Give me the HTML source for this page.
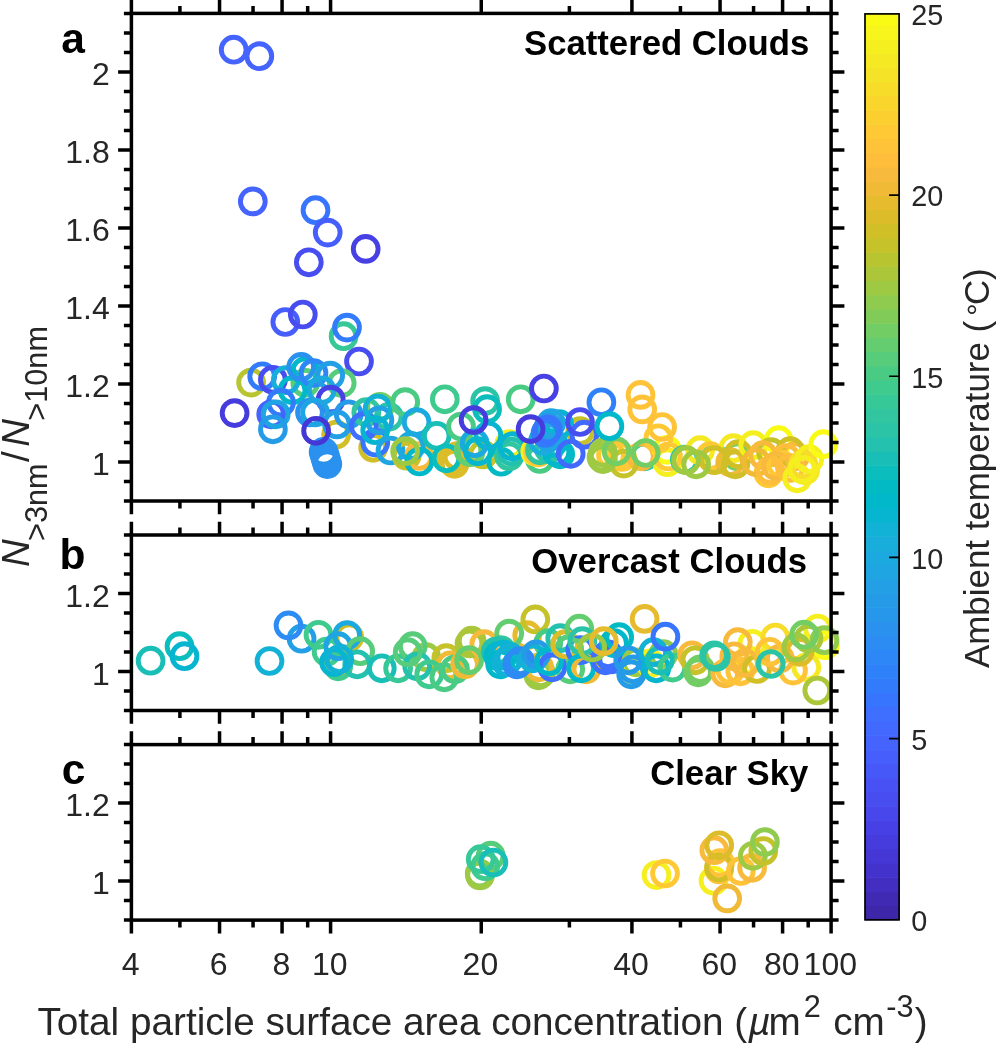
<!DOCTYPE html>
<html><head><meta charset="utf-8"><title>Figure</title>
<style>html,body{margin:0;padding:0;background:#fff;}body{width:996px;height:1044px;position:relative;overflow:hidden;font-family:"Liberation Sans",sans-serif;}</style>
</head><body>
<svg width="996" height="1044" viewBox="0 0 996 1044" style="display:block;position:absolute;left:0;top:0;will-change:transform" font-family="'Liberation Sans', sans-serif">
<rect width="996" height="1044" fill="#fff"/>
<g fill="none" stroke-width="4.9">
<circle cx="233.7" cy="49.7" r="12.4" stroke="#4563fd"/>
<circle cx="259.3" cy="56.2" r="12.4" stroke="#4563fd"/>
<circle cx="252.8" cy="201.4" r="12.4" stroke="#4563fd"/>
<circle cx="315.5" cy="210.2" r="12.4" stroke="#3875fe"/>
<circle cx="327.7" cy="232.6" r="12.4" stroke="#465efb"/>
<circle cx="365.7" cy="248.9" r="12.4" stroke="#4741e5"/>
<circle cx="308.8" cy="262.3" r="12.4" stroke="#484df0"/>
<circle cx="285.3" cy="322.0" r="12.4" stroke="#465efb"/>
<circle cx="302.8" cy="314.5" r="12.4" stroke="#484df0"/>
<circle cx="343.6" cy="336.2" r="12.4" stroke="#37c897"/>
<circle cx="347.0" cy="327.6" r="12.4" stroke="#327cfc"/>
<circle cx="359.0" cy="361.5" r="12.4" stroke="#484df0"/>
<circle cx="251.1" cy="382.6" r="12.4" stroke="#b9c431"/>
<circle cx="305.3" cy="382.8" r="12.4" stroke="#57cc7a"/>
<circle cx="341.7" cy="383.1" r="12.4" stroke="#57cc7a"/>
<circle cx="336.2" cy="434.5" r="12.4" stroke="#d1bf27"/>
<circle cx="262.2" cy="376.3" r="12.4" stroke="#327cfc"/>
<circle cx="272.9" cy="379.8" r="12.4" stroke="#484df0"/>
<circle cx="285.8" cy="380.1" r="12.4" stroke="#18addb"/>
<circle cx="292.6" cy="390.2" r="12.4" stroke="#01b8ca"/>
<circle cx="281.0" cy="402.6" r="12.4" stroke="#327cfc"/>
<circle cx="271.2" cy="414.3" r="12.4" stroke="#4563fd"/>
<circle cx="275.7" cy="414.3" r="12.4" stroke="#20a5e3"/>
<circle cx="272.9" cy="429.3" r="12.4" stroke="#259be8"/>
<circle cx="305.3" cy="371.1" r="12.4" stroke="#01b8ca"/>
<circle cx="301.2" cy="366.9" r="12.4" stroke="#2b91ef"/>
<circle cx="313.5" cy="373.0" r="12.4" stroke="#2e87f7"/>
<circle cx="330.2" cy="375.6" r="12.4" stroke="#23a0e5"/>
<circle cx="321.6" cy="390.3" r="12.4" stroke="#1ca9df"/>
<circle cx="330.7" cy="399.6" r="12.4" stroke="#4741e5"/>
<circle cx="310.0" cy="412.5" r="12.4" stroke="#2b91ef"/>
<circle cx="315.0" cy="412.5" r="12.4" stroke="#20a5e3"/>
<circle cx="337.0" cy="424.4" r="12.4" stroke="#23a0e5"/>
<circle cx="348.7" cy="414.3" r="12.4" stroke="#259be8"/>
<circle cx="323.6" cy="451.9" r="12.4" stroke="#2b91ef"/>
<circle cx="324.9" cy="456.1" r="12.4" stroke="#2b91ef"/>
<circle cx="326.1" cy="460.1" r="12.4" stroke="#2b91ef"/>
<circle cx="327.3" cy="464.1" r="12.4" stroke="#2b91ef"/>
<circle cx="316.1" cy="430.8" r="12.4" stroke="#4537d5"/>
<circle cx="234.6" cy="413.1" r="12.4" stroke="#463cde"/>
<circle cx="366.3" cy="412.2" r="12.4" stroke="#31c69f"/>
<circle cx="380.0" cy="406.8" r="12.4" stroke="#72cd64"/>
<circle cx="388.8" cy="416.8" r="12.4" stroke="#2cc4a7"/>
<circle cx="373.2" cy="447.8" r="12.4" stroke="#d1bf27"/>
<circle cx="363.8" cy="426.2" r="12.4" stroke="#3e6fff"/>
<circle cx="375.3" cy="442.5" r="12.4" stroke="#3875fe"/>
<circle cx="379.4" cy="420.3" r="12.4" stroke="#23a0e5"/>
<circle cx="377.7" cy="408.5" r="12.4" stroke="#12b1d6"/>
<circle cx="375.2" cy="430.2" r="12.4" stroke="#08b5d0"/>
<circle cx="390.5" cy="450.5" r="12.4" stroke="#20a5e3"/>
<circle cx="405.2" cy="402.1" r="12.4" stroke="#4acb84"/>
<circle cx="444.8" cy="399.3" r="12.4" stroke="#3fca8e"/>
<circle cx="406.6" cy="455.7" r="12.4" stroke="#c5c22a"/>
<circle cx="419.2" cy="456.0" r="12.4" stroke="#f8ba3d"/>
<circle cx="410.8" cy="446.2" r="12.4" stroke="#1ca9df"/>
<circle cx="419.4" cy="461.5" r="12.4" stroke="#01b8ca"/>
<circle cx="405.1" cy="451.2" r="12.4" stroke="#9dc943"/>
<circle cx="416.6" cy="422.1" r="12.4" stroke="#1ca9df"/>
<circle cx="436.7" cy="435.8" r="12.4" stroke="#19bfb6"/>
<circle cx="454.5" cy="463.8" r="12.4" stroke="#dcbd29"/>
<circle cx="457.3" cy="456.2" r="12.4" stroke="#dcbd29"/>
<circle cx="451.0" cy="460.5" r="12.4" stroke="#dcbd29"/>
<circle cx="446.5" cy="458.3" r="12.4" stroke="#0bbdbd"/>
<circle cx="461.0" cy="426.5" r="12.4" stroke="#4acb84"/>
<circle cx="468.5" cy="450.5" r="12.4" stroke="#64cd6f"/>
<circle cx="483.1" cy="454.5" r="12.4" stroke="#c5c22a"/>
<circle cx="470.4" cy="452.2" r="12.4" stroke="#64cd6f"/>
<circle cx="485.1" cy="401.1" r="12.4" stroke="#2cc4a7"/>
<circle cx="487.1" cy="409.2" r="12.4" stroke="#0bbdbd"/>
<circle cx="520.7" cy="399.3" r="12.4" stroke="#4acb84"/>
<circle cx="509.2" cy="444.2" r="12.4" stroke="#f6ef20"/>
<circle cx="488.4" cy="435.5" r="12.4" stroke="#08b5d0"/>
<circle cx="474.6" cy="443.2" r="12.4" stroke="#1ca9df"/>
<circle cx="478.0" cy="451.2" r="12.4" stroke="#08b5d0"/>
<circle cx="501.2" cy="461.7" r="12.4" stroke="#02bac3"/>
<circle cx="509.2" cy="456.2" r="12.4" stroke="#31c69f"/>
<circle cx="511.5" cy="451.5" r="12.4" stroke="#24c1ae"/>
<circle cx="512.2" cy="446.2" r="12.4" stroke="#08b5d0"/>
<circle cx="473.6" cy="420.1" r="12.4" stroke="#463cde"/>
<circle cx="539.8" cy="459.0" r="12.4" stroke="#4acb84"/>
<circle cx="535.2" cy="451.5" r="12.4" stroke="#f6ef20"/>
<circle cx="538.2" cy="452.5" r="12.4" stroke="#fec934"/>
<circle cx="540.0" cy="450.3" r="12.4" stroke="#31c69f"/>
<circle cx="560.2" cy="454.3" r="12.4" stroke="#02bac3"/>
<circle cx="580.2" cy="431.2" r="12.4" stroke="#c5c22a"/>
<circle cx="549.0" cy="449.0" r="12.4" stroke="#2cc4a7"/>
<circle cx="556.5" cy="452.0" r="12.4" stroke="#01b8ca"/>
<circle cx="553.0" cy="443.0" r="12.4" stroke="#01b8ca"/>
<circle cx="543.0" cy="441.0" r="12.4" stroke="#18addb"/>
<circle cx="559.2" cy="424.2" r="12.4" stroke="#08b5d0"/>
<circle cx="551.1" cy="423.2" r="12.4" stroke="#20a5e3"/>
<circle cx="549.1" cy="437.2" r="12.4" stroke="#20a5e3"/>
<circle cx="548.5" cy="427.5" r="12.4" stroke="#259be8"/>
<circle cx="545.5" cy="433.0" r="12.4" stroke="#327cfc"/>
<circle cx="547.6" cy="429.7" r="12.4" stroke="#3875fe"/>
<circle cx="530.6" cy="429.1" r="12.4" stroke="#463cde"/>
<circle cx="543.9" cy="388.5" r="12.4" stroke="#4741e5"/>
<circle cx="570.7" cy="453.8" r="12.4" stroke="#4269fe"/>
<circle cx="584.3" cy="434.7" r="12.4" stroke="#4269fe"/>
<circle cx="580.0" cy="422.0" r="12.4" stroke="#484df0"/>
<circle cx="601.4" cy="402.3" r="12.4" stroke="#2f81fa"/>
<circle cx="644.3" cy="456.3" r="12.4" stroke="#2cc4a7"/>
<circle cx="617.8" cy="454.7" r="12.4" stroke="#fec934"/>
<circle cx="622.0" cy="457.0" r="12.4" stroke="#fec934"/>
<circle cx="641.0" cy="456.3" r="12.4" stroke="#f8ba3d"/>
<circle cx="611.0" cy="455.5" r="12.4" stroke="#fec934"/>
<circle cx="623.8" cy="463.6" r="12.4" stroke="#c5c22a"/>
<circle cx="601.5" cy="457.5" r="12.4" stroke="#9dc943"/>
<circle cx="602.9" cy="452.7" r="12.4" stroke="#9dc943"/>
<circle cx="602.9" cy="459.1" r="12.4" stroke="#9dc943"/>
<circle cx="667.3" cy="462.2" r="12.4" stroke="#f6ef20"/>
<circle cx="666.8" cy="449.8" r="12.4" stroke="#f9fb15"/>
<circle cx="668.0" cy="456.5" r="12.4" stroke="#fec934"/>
<circle cx="640.5" cy="394.9" r="12.4" stroke="#fec338"/>
<circle cx="642.2" cy="409.4" r="12.4" stroke="#fec338"/>
<circle cx="662.1" cy="427.0" r="12.4" stroke="#fec338"/>
<circle cx="658.3" cy="438.3" r="12.4" stroke="#fec934"/>
<circle cx="616.6" cy="451.3" r="12.4" stroke="#72cd64"/>
<circle cx="645.7" cy="453.0" r="12.4" stroke="#72cd64"/>
<circle cx="609.4" cy="426.2" r="12.4" stroke="#01b8ca"/>
<circle cx="684.8" cy="459.6" r="12.4" stroke="#31c69f"/>
<circle cx="715.0" cy="458.5" r="12.4" stroke="#3fca8e"/>
<circle cx="700.1" cy="450.2" r="12.4" stroke="#f5e924"/>
<circle cx="710.2" cy="456.2" r="12.4" stroke="#fec934"/>
<circle cx="733.3" cy="448.2" r="12.4" stroke="#f5e924"/>
<circle cx="737.3" cy="456.2" r="12.4" stroke="#72cd64"/>
<circle cx="730.2" cy="462.2" r="12.4" stroke="#f0ba36"/>
<circle cx="738.3" cy="454.2" r="12.4" stroke="#d1bf27"/>
<circle cx="735.3" cy="464.3" r="12.4" stroke="#d1bf27"/>
<circle cx="714.2" cy="460.2" r="12.4" stroke="#d1bf27"/>
<circle cx="686.1" cy="460.2" r="12.4" stroke="#9dc943"/>
<circle cx="696.1" cy="464.3" r="12.4" stroke="#9dc943"/>
<circle cx="753.2" cy="445.2" r="12.4" stroke="#f6ef20"/>
<circle cx="778.6" cy="440.2" r="12.4" stroke="#f9fb15"/>
<circle cx="795.2" cy="456.2" r="12.4" stroke="#f8ba3d"/>
<circle cx="771.1" cy="452.2" r="12.4" stroke="#c5c22a"/>
<circle cx="790.2" cy="451.2" r="12.4" stroke="#d1bf27"/>
<circle cx="768.4" cy="473.3" r="12.4" stroke="#fec934"/>
<circle cx="756.2" cy="462.2" r="12.4" stroke="#f0ba36"/>
<circle cx="763.1" cy="455.2" r="12.4" stroke="#f8ba3d"/>
<circle cx="770.1" cy="470.3" r="12.4" stroke="#febe3c"/>
<circle cx="781.1" cy="464.3" r="12.4" stroke="#fec934"/>
<circle cx="786.0" cy="458.0" r="12.4" stroke="#febe3c"/>
<circle cx="776.0" cy="466.0" r="12.4" stroke="#f8ba3d"/>
<circle cx="790.0" cy="468.0" r="12.4" stroke="#febe3c"/>
<circle cx="797.2" cy="478.3" r="12.4" stroke="#f6ef20"/>
<circle cx="805.2" cy="470.3" r="12.4" stroke="#f5e924"/>
<circle cx="803.2" cy="464.3" r="12.4" stroke="#f7dc2a"/>
<circle cx="802.2" cy="469.3" r="12.4" stroke="#f6ef20"/>
<circle cx="809.2" cy="459.2" r="12.4" stroke="#f6ef20"/>
<circle cx="823.3" cy="444.2" r="12.4" stroke="#f9fb15"/>
</g>
<g fill="none" stroke-width="4.9">
<circle cx="150.6" cy="660.7" r="12.4" stroke="#19bfb6"/>
<circle cx="179.5" cy="646.2" r="12.4" stroke="#0bbdbd"/>
<circle cx="184.5" cy="656.2" r="12.4" stroke="#08b5d0"/>
<circle cx="269.5" cy="661.0" r="12.4" stroke="#12b1d6"/>
<circle cx="301.6" cy="638.7" r="12.4" stroke="#23a0e5"/>
<circle cx="288.5" cy="625.4" r="12.4" stroke="#2d8cf3"/>
<circle cx="318.5" cy="634.8" r="12.4" stroke="#3fca8e"/>
<circle cx="349.2" cy="637.3" r="12.4" stroke="#d1bf27"/>
<circle cx="335.5" cy="662.5" r="12.4" stroke="#d1bf27"/>
<circle cx="338.2" cy="666.3" r="12.4" stroke="#3fca8e"/>
<circle cx="326.6" cy="651.7" r="12.4" stroke="#3fca8e"/>
<circle cx="347.2" cy="635.1" r="12.4" stroke="#1ca9df"/>
<circle cx="338.2" cy="646.2" r="12.4" stroke="#20a5e3"/>
<circle cx="360.2" cy="651.2" r="12.4" stroke="#57cc7a"/>
<circle cx="357.2" cy="664.3" r="12.4" stroke="#24c1ae"/>
<circle cx="334.1" cy="662.2" r="12.4" stroke="#08b5d0"/>
<circle cx="339.2" cy="659.2" r="12.4" stroke="#12b1d6"/>
<circle cx="381.8" cy="668.3" r="12.4" stroke="#19bfb6"/>
<circle cx="398.1" cy="668.3" r="12.4" stroke="#37c897"/>
<circle cx="426.2" cy="657.2" r="12.4" stroke="#9dc943"/>
<circle cx="412.7" cy="646.2" r="12.4" stroke="#57cc7a"/>
<circle cx="417.2" cy="666.3" r="12.4" stroke="#24c1ae"/>
<circle cx="407.7" cy="652.2" r="12.4" stroke="#57cc7a"/>
<circle cx="446.3" cy="658.2" r="12.4" stroke="#c5c22a"/>
<circle cx="450.3" cy="665.3" r="12.4" stroke="#f0ba36"/>
<circle cx="429.2" cy="674.3" r="12.4" stroke="#3fca8e"/>
<circle cx="444.3" cy="677.3" r="12.4" stroke="#4acb84"/>
<circle cx="455.0" cy="669.3" r="12.4" stroke="#4acb84"/>
<circle cx="465.1" cy="664.3" r="12.4" stroke="#f0ba36"/>
<circle cx="469.5" cy="643.5" r="12.4" stroke="#abc739"/>
<circle cx="471.6" cy="640.7" r="12.4" stroke="#abc739"/>
<circle cx="484.2" cy="644.2" r="12.4" stroke="#f8ba3d"/>
<circle cx="469.1" cy="660.2" r="12.4" stroke="#64cd6f"/>
<circle cx="527.2" cy="635.2" r="12.4" stroke="#e6bb2d"/>
<circle cx="509.2" cy="633.6" r="12.4" stroke="#64cd6f"/>
<circle cx="535.3" cy="619.4" r="12.4" stroke="#c5c22a"/>
<circle cx="538.4" cy="675.3" r="12.4" stroke="#9dc943"/>
<circle cx="541.1" cy="673.3" r="12.4" stroke="#9dc943"/>
<circle cx="539.1" cy="667.3" r="12.4" stroke="#f0ba36"/>
<circle cx="501.2" cy="650.2" r="12.4" stroke="#31c69f"/>
<circle cx="495.8" cy="651.5" r="12.4" stroke="#24c1ae"/>
<circle cx="498.2" cy="656.2" r="12.4" stroke="#01b8ca"/>
<circle cx="504.0" cy="654.5" r="12.4" stroke="#08b5d0"/>
<circle cx="500.2" cy="664.3" r="12.4" stroke="#01b8ca"/>
<circle cx="510.3" cy="657.2" r="12.4" stroke="#12b1d6"/>
<circle cx="506.3" cy="662.2" r="12.4" stroke="#12b1d6"/>
<circle cx="517.2" cy="664.3" r="12.4" stroke="#2d8cf3"/>
<circle cx="520.2" cy="661.2" r="12.4" stroke="#2d8cf3"/>
<circle cx="548.2" cy="643.2" r="12.4" stroke="#4acb84"/>
<circle cx="569.2" cy="649.2" r="12.4" stroke="#57cc7a"/>
<circle cx="570.2" cy="669.3" r="12.4" stroke="#57cc7a"/>
<circle cx="533.1" cy="658.3" r="12.4" stroke="#12b1d6"/>
<circle cx="536.2" cy="654.3" r="12.4" stroke="#259be8"/>
<circle cx="552.2" cy="667.3" r="12.4" stroke="#3e6fff"/>
<circle cx="549.2" cy="661.3" r="12.4" stroke="#01b8ca"/>
<circle cx="560.2" cy="638.2" r="12.4" stroke="#24c1ae"/>
<circle cx="565.2" cy="644.2" r="12.4" stroke="#dcbd29"/>
<circle cx="580.3" cy="650.2" r="12.4" stroke="#3875fe"/>
<circle cx="579.3" cy="628.7" r="12.4" stroke="#64cd6f"/>
<circle cx="582.3" cy="641.2" r="12.4" stroke="#2cc4a7"/>
<circle cx="586.3" cy="669.3" r="12.4" stroke="#f0ba36"/>
<circle cx="581.2" cy="668.3" r="12.4" stroke="#01b8ca"/>
<circle cx="605.4" cy="660.3" r="12.4" stroke="#3e6fff"/>
<circle cx="608.1" cy="654.3" r="12.4" stroke="#3e6fff"/>
<circle cx="612.1" cy="659.3" r="12.4" stroke="#3e6fff"/>
<circle cx="614.1" cy="643.2" r="12.4" stroke="#01b8ca"/>
<circle cx="619.2" cy="637.2" r="12.4" stroke="#02bac3"/>
<circle cx="592.2" cy="647.5" r="12.4" stroke="#9dc943"/>
<circle cx="603.8" cy="641.2" r="12.4" stroke="#e6bb2d"/>
<circle cx="636.2" cy="662.3" r="12.4" stroke="#9dc943"/>
<circle cx="634.2" cy="670.0" r="12.4" stroke="#f6ef20"/>
<circle cx="650.3" cy="663.3" r="12.4" stroke="#f6ef20"/>
<circle cx="663.3" cy="654.2" r="12.4" stroke="#8fcb4e"/>
<circle cx="628.2" cy="660.3" r="12.4" stroke="#259be8"/>
<circle cx="633.2" cy="669.3" r="12.4" stroke="#259be8"/>
<circle cx="631.2" cy="674.3" r="12.4" stroke="#259be8"/>
<circle cx="653.3" cy="652.2" r="12.4" stroke="#12b1d6"/>
<circle cx="656.3" cy="668.3" r="12.4" stroke="#08b5d0"/>
<circle cx="672.5" cy="667.6" r="12.4" stroke="#3fca8e"/>
<circle cx="659.8" cy="660.3" r="12.4" stroke="#19bfb6"/>
<circle cx="644.6" cy="618.9" r="12.4" stroke="#e6bb2d"/>
<circle cx="665.4" cy="636.7" r="12.4" stroke="#3875fe"/>
<circle cx="748.4" cy="660.3" r="12.4" stroke="#f6ef20"/>
<circle cx="752.3" cy="643.8" r="12.4" stroke="#f6ef20"/>
<circle cx="692.1" cy="655.3" r="12.4" stroke="#f8ba3d"/>
<circle cx="695.1" cy="660.3" r="12.4" stroke="#c5c22a"/>
<circle cx="698.2" cy="672.3" r="12.4" stroke="#72cd64"/>
<circle cx="700.2" cy="669.3" r="12.4" stroke="#72cd64"/>
<circle cx="725.3" cy="673.3" r="12.4" stroke="#f8ba3d"/>
<circle cx="730.3" cy="670.3" r="12.4" stroke="#fec338"/>
<circle cx="740.3" cy="671.3" r="12.4" stroke="#fec338"/>
<circle cx="734.3" cy="656.3" r="12.4" stroke="#f8ba3d"/>
<circle cx="737.8" cy="642.2" r="12.4" stroke="#f8ba3d"/>
<circle cx="716.0" cy="657.0" r="12.4" stroke="#2cc4a7"/>
<circle cx="714.2" cy="655.3" r="12.4" stroke="#2cc4a7"/>
<circle cx="757.0" cy="669.0" r="12.4" stroke="#d1bf27"/>
<circle cx="745.0" cy="663.0" r="12.4" stroke="#f8ba3d"/>
<circle cx="817.8" cy="628.5" r="12.4" stroke="#f6ef20"/>
<circle cx="825.0" cy="645.2" r="12.4" stroke="#f9fb15"/>
<circle cx="775.3" cy="637.5" r="12.4" stroke="#f7dc2a"/>
<circle cx="806.3" cy="667.3" r="12.4" stroke="#f5e924"/>
<circle cx="793.0" cy="670.6" r="12.4" stroke="#fec338"/>
<circle cx="779.8" cy="658.5" r="12.4" stroke="#f8ba3d"/>
<circle cx="769.8" cy="651.8" r="12.4" stroke="#fec338"/>
<circle cx="799.6" cy="651.8" r="12.4" stroke="#dcbd29"/>
<circle cx="808.5" cy="638.6" r="12.4" stroke="#abc739"/>
<circle cx="796.3" cy="647.4" r="12.4" stroke="#9dc943"/>
<circle cx="824.5" cy="640.2" r="12.4" stroke="#8fcb4e"/>
<circle cx="804.1" cy="634.7" r="12.4" stroke="#72cd64"/>
<circle cx="770.7" cy="664.0" r="12.4" stroke="#2cc4a7"/>
<circle cx="817.3" cy="690.5" r="12.4" stroke="#abc739"/>
</g>
<g fill="none" stroke-width="4.9">
<circle cx="479.7" cy="873.5" r="12.4" stroke="#8fcb4e"/>
<circle cx="480.0" cy="875.5" r="12.4" stroke="#9dc943"/>
<circle cx="490.7" cy="855.7" r="12.4" stroke="#57cc7a"/>
<circle cx="485.2" cy="866.2" r="12.4" stroke="#3fca8e"/>
<circle cx="480.7" cy="859.2" r="12.4" stroke="#37c897"/>
<circle cx="493.4" cy="862.5" r="12.4" stroke="#19bfb6"/>
<circle cx="656.5" cy="875.1" r="12.4" stroke="#f6ef20"/>
<circle cx="665.0" cy="873.5" r="12.4" stroke="#fec934"/>
<circle cx="713.5" cy="880.7" r="12.4" stroke="#f6ef20"/>
<circle cx="720.0" cy="863.0" r="12.4" stroke="#fec338"/>
<circle cx="719.2" cy="869.4" r="12.4" stroke="#fec338"/>
<circle cx="719.0" cy="867.5" r="12.4" stroke="#d1bf27"/>
<circle cx="714.3" cy="850.2" r="12.4" stroke="#f8ba3d"/>
<circle cx="719.2" cy="845.3" r="12.4" stroke="#dcbd29"/>
<circle cx="727.2" cy="898.4" r="12.4" stroke="#f0ba36"/>
<circle cx="740.8" cy="871.0" r="12.4" stroke="#fec338"/>
<circle cx="752.1" cy="867.8" r="12.4" stroke="#f8ba3d"/>
<circle cx="752.9" cy="855.8" r="12.4" stroke="#9dc943"/>
<circle cx="763.3" cy="851.0" r="12.4" stroke="#c5c22a"/>
<circle cx="764.9" cy="842.1" r="12.4" stroke="#8fcb4e"/>
</g>
<rect x="131.4" y="13.4" width="699.7" height="487.6" fill="none" stroke="#000" stroke-width="3.5"/>
<path d="M131.40 501.0v13.3M131.40 13.4v-13.3M219.54 501.0v13.3M219.54 13.4v-13.3M282.07 501.0v13.3M282.07 13.4v-13.3M330.58 501.0v13.3M330.58 13.4v-13.3M481.25 501.0v13.3M481.25 13.4v-13.3M631.92 501.0v13.3M631.92 13.4v-13.3M720.06 501.0v13.3M720.06 13.4v-13.3M782.59 501.0v13.3M782.59 13.4v-13.3M831.10 501.0v13.3M831.10 13.4v-13.3M179.91 501.0v7.5M179.91 13.4v-7.5M253.05 501.0v7.5M253.05 13.4v-7.5M307.68 501.0v7.5M307.68 13.4v-7.5M569.39 501.0v7.5M569.39 13.4v-7.5M680.43 501.0v7.5M680.43 13.4v-7.5M753.57 501.0v7.5M753.57 13.4v-7.5M808.20 501.0v7.5M808.20 13.4v-7.5M131.4 501.00h-7.5M831.1 501.00h7.5M131.4 481.50h-7.5M831.1 481.50h7.5M131.4 461.99h-13.3M831.1 461.99h13.3M131.4 442.49h-7.5M831.1 442.49h7.5M131.4 422.98h-7.5M831.1 422.98h7.5M131.4 403.48h-7.5M831.1 403.48h7.5M131.4 383.98h-13.3M831.1 383.98h13.3M131.4 364.47h-7.5M831.1 364.47h7.5M131.4 344.97h-7.5M831.1 344.97h7.5M131.4 325.46h-7.5M831.1 325.46h7.5M131.4 305.96h-13.3M831.1 305.96h13.3M131.4 286.46h-7.5M831.1 286.46h7.5M131.4 266.95h-7.5M831.1 266.95h7.5M131.4 247.45h-7.5M831.1 247.45h7.5M131.4 227.94h-13.3M831.1 227.94h13.3M131.4 208.44h-7.5M831.1 208.44h7.5M131.4 188.94h-7.5M831.1 188.94h7.5M131.4 169.43h-7.5M831.1 169.43h7.5M131.4 149.93h-13.3M831.1 149.93h13.3M131.4 130.42h-7.5M831.1 130.42h7.5M131.4 110.92h-7.5M831.1 110.92h7.5M131.4 91.42h-7.5M831.1 91.42h7.5M131.4 71.91h-13.3M831.1 71.91h13.3M131.4 52.41h-7.5M831.1 52.41h7.5M131.4 32.90h-7.5M831.1 32.90h7.5M131.4 13.40h-7.5M831.1 13.40h7.5" stroke="#000" stroke-width="3.5" fill="none"/>
<text x="109.80000000000001" y="475.0" font-size="32" fill="#262626" text-anchor="end">1</text>
<text x="109.80000000000001" y="397.0" font-size="32" fill="#262626" text-anchor="end">1.2</text>
<text x="109.80000000000001" y="319.0" font-size="32" fill="#262626" text-anchor="end">1.4</text>
<text x="109.80000000000001" y="240.9" font-size="32" fill="#262626" text-anchor="end">1.6</text>
<text x="109.80000000000001" y="162.9" font-size="32" fill="#262626" text-anchor="end">1.8</text>
<text x="109.80000000000001" y="84.9" font-size="32" fill="#262626" text-anchor="end">2</text>
<rect x="131.4" y="535.0" width="699.7" height="175.5" fill="none" stroke="#000" stroke-width="3.5"/>
<path d="M131.40 710.5v13.3M131.40 535.0v-13.3M219.54 710.5v13.3M219.54 535.0v-13.3M282.07 710.5v13.3M282.07 535.0v-13.3M330.58 710.5v13.3M330.58 535.0v-13.3M481.25 710.5v13.3M481.25 535.0v-13.3M631.92 710.5v13.3M631.92 535.0v-13.3M720.06 710.5v13.3M720.06 535.0v-13.3M782.59 710.5v13.3M782.59 535.0v-13.3M831.10 710.5v13.3M831.10 535.0v-13.3M179.91 710.5v7.5M179.91 535.0v-7.5M253.05 710.5v7.5M253.05 535.0v-7.5M307.68 710.5v7.5M307.68 535.0v-7.5M569.39 710.5v7.5M569.39 535.0v-7.5M680.43 710.5v7.5M680.43 535.0v-7.5M753.57 710.5v7.5M753.57 535.0v-7.5M808.20 710.5v7.5M808.20 535.0v-7.5M131.4 710.50h-7.5M831.1 710.50h7.5M131.4 691.00h-7.5M831.1 691.00h7.5M131.4 671.50h-13.3M831.1 671.50h13.3M131.4 652.00h-7.5M831.1 652.00h7.5M131.4 632.50h-7.5M831.1 632.50h7.5M131.4 613.00h-7.5M831.1 613.00h7.5M131.4 593.50h-13.3M831.1 593.50h13.3M131.4 574.00h-7.5M831.1 574.00h7.5M131.4 554.50h-7.5M831.1 554.50h7.5M131.4 535.00h-7.5M831.1 535.00h7.5" stroke="#000" stroke-width="3.5" fill="none"/>
<text x="109.80000000000001" y="684.5" font-size="32" fill="#262626" text-anchor="end">1</text>
<text x="109.80000000000001" y="606.5" font-size="32" fill="#262626" text-anchor="end">1.2</text>
<rect x="131.4" y="744.6" width="699.7" height="175.5" fill="none" stroke="#000" stroke-width="3.5"/>
<path d="M131.40 920.1v13.3M131.40 744.6v-13.3M219.54 920.1v13.3M219.54 744.6v-13.3M282.07 920.1v13.3M282.07 744.6v-13.3M330.58 920.1v13.3M330.58 744.6v-13.3M481.25 920.1v13.3M481.25 744.6v-13.3M631.92 920.1v13.3M631.92 744.6v-13.3M720.06 920.1v13.3M720.06 744.6v-13.3M782.59 920.1v13.3M782.59 744.6v-13.3M831.10 920.1v13.3M831.10 744.6v-13.3M179.91 920.1v7.5M179.91 744.6v-7.5M253.05 920.1v7.5M253.05 744.6v-7.5M307.68 920.1v7.5M307.68 744.6v-7.5M569.39 920.1v7.5M569.39 744.6v-7.5M680.43 920.1v7.5M680.43 744.6v-7.5M753.57 920.1v7.5M753.57 744.6v-7.5M808.20 920.1v7.5M808.20 744.6v-7.5M131.4 920.10h-7.5M831.1 920.10h7.5M131.4 900.60h-7.5M831.1 900.60h7.5M131.4 881.10h-13.3M831.1 881.10h13.3M131.4 861.60h-7.5M831.1 861.60h7.5M131.4 842.10h-7.5M831.1 842.10h7.5M131.4 822.60h-7.5M831.1 822.60h7.5M131.4 803.10h-13.3M831.1 803.10h13.3M131.4 783.60h-7.5M831.1 783.60h7.5M131.4 764.10h-7.5M831.1 764.10h7.5M131.4 744.60h-7.5M831.1 744.60h7.5" stroke="#000" stroke-width="3.5" fill="none"/>
<text x="109.80000000000001" y="894.1" font-size="32" fill="#262626" text-anchor="end">1</text>
<text x="109.80000000000001" y="816.1" font-size="32" fill="#262626" text-anchor="end">1.2</text>
<text x="130.6" y="975.4" font-size="32" fill="#262626" text-anchor="middle">4</text>
<text x="218.7" y="975.4" font-size="32" fill="#262626" text-anchor="middle">6</text>
<text x="281.3" y="975.4" font-size="32" fill="#262626" text-anchor="middle">8</text>
<text x="329.8" y="975.4" font-size="32" fill="#262626" text-anchor="middle">10</text>
<text x="480.4" y="975.4" font-size="32" fill="#262626" text-anchor="middle">20</text>
<text x="631.1" y="975.4" font-size="32" fill="#262626" text-anchor="middle">40</text>
<text x="719.3" y="975.4" font-size="32" fill="#262626" text-anchor="middle">60</text>
<text x="781.8" y="975.4" font-size="32" fill="#262626" text-anchor="middle">80</text>
<text x="830.3" y="975.4" font-size="32" fill="#262626" text-anchor="middle">100</text>
<g font-weight="bold" fill="#000">
<text x="61.3" y="52.8" font-size="42.5">a</text>
<text x="59.5" y="569" font-size="42.5">b</text>
<text x="61.8" y="783.7" font-size="42.5">c</text>
<text x="809.3" y="55" font-size="34.7" text-anchor="end">Scattered Clouds</text>
<text x="807" y="573" font-size="34.7" text-anchor="end">Overcast Clouds</text>
<text x="808.3" y="785.3" font-size="34.7" text-anchor="end">Clear Sky</text>
</g>
<g fill="#262626" font-size="38.7">
<text x="37.5" y="1034.7">Total particle surface area concentration (</text>
<text x="748.3" y="1034.7" font-style="italic">µ</text>
<text x="768.4" y="1034.7">m</text>
<text x="833.2" y="1034.7">cm</text>
<text x="914.8" y="1034.7">)</text>
<text x="803.8" y="1017" font-size="30.7">2</text>
<text x="886.3" y="1017" font-size="30.7">-3</text>
</g>
<g fill="#262626" font-size="38.4">
<text transform="translate(29.3,566.9) rotate(-90)" font-style="italic">N</text>
<text transform="translate(47.4,541) rotate(-90)" font-size="30.7">&gt;3nm</text>
<text transform="translate(29.3,462.1) rotate(-90)">/</text>
<text transform="translate(29.3,446.8) rotate(-90)" font-style="italic">N</text>
<text transform="translate(47.4,420.7) rotate(-90)" font-size="30.7">&gt;10nm</text>
</g>
<rect x="865.0" y="905.59" width="34.10" height="14.81" fill="#3e26a8"/>
<rect x="865.0" y="891.39" width="34.10" height="14.81" fill="#402ab4"/>
<rect x="865.0" y="877.18" width="34.10" height="14.81" fill="#422ec0"/>
<rect x="865.0" y="862.98" width="34.10" height="14.81" fill="#4332cb"/>
<rect x="865.0" y="848.77" width="34.10" height="14.81" fill="#4537d5"/>
<rect x="865.0" y="834.56" width="34.10" height="14.81" fill="#463cde"/>
<rect x="865.0" y="820.36" width="34.10" height="14.81" fill="#4741e5"/>
<rect x="865.0" y="806.15" width="34.10" height="14.81" fill="#4747eb"/>
<rect x="865.0" y="791.95" width="34.10" height="14.81" fill="#484df0"/>
<rect x="865.0" y="777.74" width="34.10" height="14.81" fill="#4852f4"/>
<rect x="865.0" y="763.53" width="34.10" height="14.81" fill="#4758f8"/>
<rect x="865.0" y="749.33" width="34.10" height="14.81" fill="#465efb"/>
<rect x="865.0" y="735.12" width="34.10" height="14.81" fill="#4563fd"/>
<rect x="865.0" y="720.92" width="34.10" height="14.81" fill="#4269fe"/>
<rect x="865.0" y="706.71" width="34.10" height="14.81" fill="#3e6fff"/>
<rect x="865.0" y="692.50" width="34.10" height="14.81" fill="#3875fe"/>
<rect x="865.0" y="678.30" width="34.10" height="14.81" fill="#327cfc"/>
<rect x="865.0" y="664.09" width="34.10" height="14.81" fill="#2f81fa"/>
<rect x="865.0" y="649.89" width="34.10" height="14.81" fill="#2e87f7"/>
<rect x="865.0" y="635.68" width="34.10" height="14.81" fill="#2d8cf3"/>
<rect x="865.0" y="621.47" width="34.10" height="14.81" fill="#2b91ef"/>
<rect x="865.0" y="607.27" width="34.10" height="14.81" fill="#2797eb"/>
<rect x="865.0" y="593.06" width="34.10" height="14.81" fill="#259be8"/>
<rect x="865.0" y="578.86" width="34.10" height="14.81" fill="#23a0e5"/>
<rect x="865.0" y="564.65" width="34.10" height="14.81" fill="#20a5e3"/>
<rect x="865.0" y="550.44" width="34.10" height="14.81" fill="#1ca9df"/>
<rect x="865.0" y="536.24" width="34.10" height="14.81" fill="#18addb"/>
<rect x="865.0" y="522.03" width="34.10" height="14.81" fill="#12b1d6"/>
<rect x="865.0" y="507.83" width="34.10" height="14.81" fill="#08b5d0"/>
<rect x="865.0" y="493.62" width="34.10" height="14.81" fill="#01b8ca"/>
<rect x="865.0" y="479.41" width="34.10" height="14.81" fill="#02bac3"/>
<rect x="865.0" y="465.21" width="34.10" height="14.81" fill="#0bbdbd"/>
<rect x="865.0" y="451.00" width="34.10" height="14.81" fill="#19bfb6"/>
<rect x="865.0" y="436.80" width="34.10" height="14.81" fill="#24c1ae"/>
<rect x="865.0" y="422.59" width="34.10" height="14.81" fill="#2cc4a7"/>
<rect x="865.0" y="408.38" width="34.10" height="14.81" fill="#31c69f"/>
<rect x="865.0" y="394.18" width="34.10" height="14.81" fill="#37c897"/>
<rect x="865.0" y="379.97" width="34.10" height="14.81" fill="#3fca8e"/>
<rect x="865.0" y="365.77" width="34.10" height="14.81" fill="#4acb84"/>
<rect x="865.0" y="351.56" width="34.10" height="14.81" fill="#57cc7a"/>
<rect x="865.0" y="337.35" width="34.10" height="14.81" fill="#64cd6f"/>
<rect x="865.0" y="323.15" width="34.10" height="14.81" fill="#72cd64"/>
<rect x="865.0" y="308.94" width="34.10" height="14.81" fill="#81cc59"/>
<rect x="865.0" y="294.74" width="34.10" height="14.81" fill="#8fcb4e"/>
<rect x="865.0" y="280.53" width="34.10" height="14.81" fill="#9dc943"/>
<rect x="865.0" y="266.32" width="34.10" height="14.81" fill="#abc739"/>
<rect x="865.0" y="252.12" width="34.10" height="14.81" fill="#b9c431"/>
<rect x="865.0" y="237.91" width="34.10" height="14.81" fill="#c5c22a"/>
<rect x="865.0" y="223.71" width="34.10" height="14.81" fill="#d1bf27"/>
<rect x="865.0" y="209.50" width="34.10" height="14.81" fill="#dcbd29"/>
<rect x="865.0" y="195.29" width="34.10" height="14.81" fill="#e6bb2d"/>
<rect x="865.0" y="181.09" width="34.10" height="14.81" fill="#f0ba36"/>
<rect x="865.0" y="166.88" width="34.10" height="14.81" fill="#f8ba3d"/>
<rect x="865.0" y="152.68" width="34.10" height="14.81" fill="#febe3c"/>
<rect x="865.0" y="138.47" width="34.10" height="14.81" fill="#fec338"/>
<rect x="865.0" y="124.26" width="34.10" height="14.81" fill="#fec934"/>
<rect x="865.0" y="110.06" width="34.10" height="14.81" fill="#fccf30"/>
<rect x="865.0" y="95.85" width="34.10" height="14.81" fill="#fad62d"/>
<rect x="865.0" y="81.65" width="34.10" height="14.81" fill="#f7dc2a"/>
<rect x="865.0" y="67.44" width="34.10" height="14.81" fill="#f5e327"/>
<rect x="865.0" y="53.23" width="34.10" height="14.81" fill="#f5e924"/>
<rect x="865.0" y="39.03" width="34.10" height="14.81" fill="#f6ef20"/>
<rect x="865.0" y="24.82" width="34.10" height="14.81" fill="#f7f51b"/>
<rect x="865.0" y="13.90" width="34.10" height="11.52" fill="#f9fb15"/>
<rect x="865.0" y="13.9" width="34.10" height="905.90" fill="none" stroke="#000" stroke-width="1.7"/>
<path d="M899.1 738.62h-10M899.1 557.44h-10M899.1 376.26h-10M899.1 195.08h-10" stroke="#000" stroke-width="1.7" fill="none"/>
<text x="911.3" y="931.0" font-size="28.8" fill="#262626">0</text>
<text x="911.3" y="749.8" font-size="28.8" fill="#262626">5</text>
<text x="911.3" y="568.6" font-size="28.8" fill="#262626">10</text>
<text x="911.3" y="387.5" font-size="28.8" fill="#262626">15</text>
<text x="911.3" y="206.3" font-size="28.8" fill="#262626">20</text>
<text x="911.3" y="25.1" font-size="28.8" fill="#262626">25</text>
<g fill="#262626" font-size="34.9">
<text transform="translate(989.1,668) rotate(-90)">Ambient temperature (</text>
<text transform="translate(989.1,305.1) rotate(-90)">C)</text>
<circle cx="971.9" cy="309.6" r="3.5" fill="none" stroke="#262626" stroke-width="1.6"/>
</g>
</svg>
</body></html>
